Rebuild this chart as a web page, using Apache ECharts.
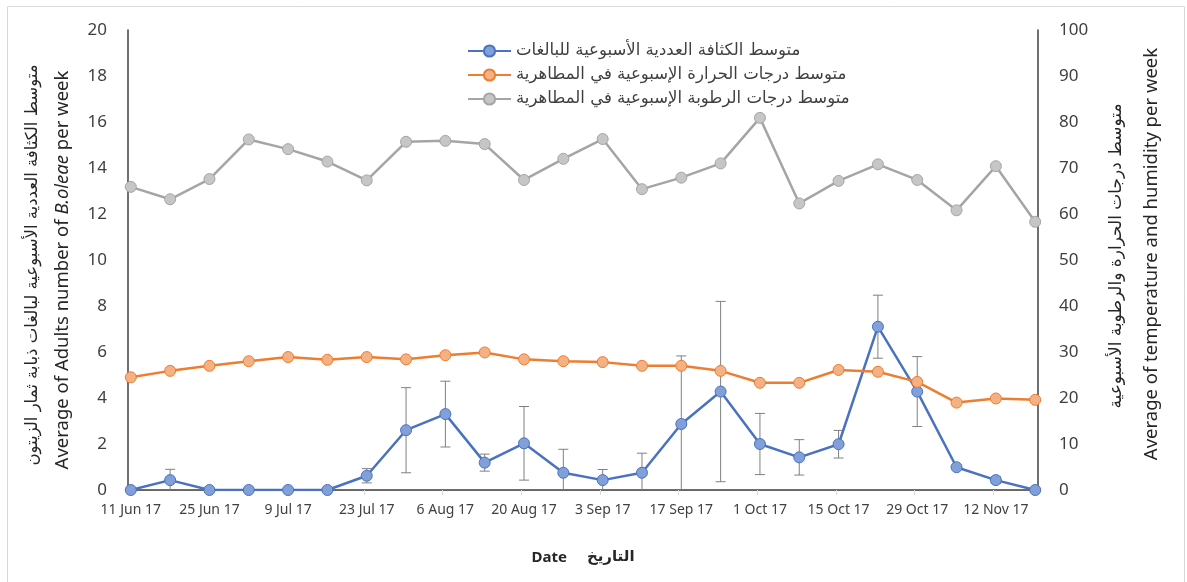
<!DOCTYPE html>
<html><head><meta charset="utf-8">
<script src="https://cdn.jsdelivr.net/npm/echarts@6/dist/echarts.min.js"></script>
<style>html,body{margin:0;padding:0;background:#fff}#c{width:1187px;height:582px}</style>
</head><body><div id="c"></div>
<script>
// one sample per week, starting 11 Jun 17
const weekCount = 24;
const daysPerWeek = 7;
const tickLabels = ['11 Jun 17','25 Jun 17','9 Jul 17','23 Jul 17','6 Aug 17','20 Aug 17','3 Sep 17','17 Sep 17','1 Oct 17','15 Oct 17','29 Oct 17','12 Nov 17'];
const adults = [0,0.43,0,0,0,0,0.62,2.6,3.3,1.19,2.03,0.75,0.43,0.75,2.87,4.28,2.0,1.42,1.99,7.1,4.28,0.99,0.43,0];
const adultsErr = [0,0.47,0,0,0,0,0.31,1.85,1.43,0.37,1.6,1.02,0.46,0.85,2.96,3.92,1.33,0.77,0.6,1.37,1.52,0,0.15,0];
const temperature = [24.5,25.9,27.0,28.0,28.9,28.3,28.9,28.4,29.3,29.9,28.4,28.0,27.8,27.0,27.0,25.9,23.3,23.3,26.1,25.7,23.5,19.0,19.9,19.6];
const humidity = [65.9,63.2,67.6,76.2,74.1,71.4,67.3,75.7,75.9,75.2,67.4,72.0,76.3,65.4,67.9,71.0,80.9,62.3,67.2,70.8,67.4,60.8,70.4,58.3];
const seriesNames = ['متوسط الكثافة العددية الأسبوعية للبالغات','متوسط درجات الحرارة الإسبوعية في المطاهرية','متوسط درجات الرطوبة الإسبوعية في المطاهرية'];

const dayCount = (weekCount - 1) * daysPerWeek + 1;
const days = Array.from({length: dayCount}, (_, d) => String(d));
const toPts = arr => arr.map((v, i) => [i * daysPerWeek, v]);
const errData = adults.map((v, i) => [i * daysPerWeek, v - adultsErr[i], v + adultsErr[i], adultsErr[i]]).filter(d => d[3] > 0);

const chart = echarts.init(document.getElementById('c'));
const axisFont = 'Noto Sans, DejaVu Sans, sans-serif';
const arFont = 'DejaVu Sans, sans-serif';
chart.setOption({
  animation: false,
  backgroundColor: '#fff',
  grid: {left: 128, right: 149, top: 30, bottom: 92},
  legend: {
    orient: 'vertical', left: 462, top: 37.5, itemGap: 7, itemWidth: 43, itemHeight: 14,
    data: seriesNames,
    textStyle: {fontFamily: arFont, fontSize: 16.5, color: '#404040'}
  },
  xAxis: [{
    type: 'category', data: days, boundaryGap: true,
    axisLine: {lineStyle: {color: '#d9d9d9', width: 1}},
    axisTick: {show: true, interval: 13, length: 5, lineStyle: {color: '#d9d9d9'}},
    axisLabel: {interval: 13, margin: 13, color: '#404040', fontSize: 14, fontFamily: axisFont,
      formatter: (v, idx) => tickLabels[idx / 14] || ''},
    name: '{en|Date}      {ar|التاريخ}', nameLocation: 'middle', nameGap: 60,
    nameTextStyle: {rich: {
      en: {fontFamily: axisFont, fontWeight: 'bold', fontSize: 15, color: '#262626'},
      ar: {fontFamily: arFont, fontWeight: 'bold', fontSize: 15, color: '#262626'}
    }},
    splitLine: {show: false}
  }, {
    type: 'category', data: days, position: 'top', boundaryGap: true,
    axisLine: {lineStyle: {color: '#404040', width: 1.5}},
    axisTick: {show: false}, axisLabel: {show: false}, splitLine: {show: false}
  }],
  yAxis: [{
    type: 'value', min: 0, max: 20, interval: 2,
    axisLine: {show: true, lineStyle: {color: '#404040', width: 1.5}},
    axisTick: {show: false}, splitLine: {show: false},
    axisLabel: {margin: 21, color: '#404040', fontSize: 17, fontFamily: axisFont}
  }, {
    type: 'value', min: 0, max: 100, interval: 10, position: 'right',
    axisLine: {show: true, lineStyle: {color: '#404040', width: 1.5}},
    axisTick: {show: false}, splitLine: {show: false},
    axisLabel: {margin: 21, color: '#404040', fontSize: 17, fontFamily: axisFont}
  }],
  graphic: [
    {type: 'rect', shape: {x: 7.5, y: 6.5, width: 1177, height: 600}, style: {fill: 'none', stroke: '#d9d9d9', lineWidth: 1}, silent: true, z: -1},
    {type: 'text', x: 33, y: 265, rotation: Math.PI / 2,
      style: {text: 'متوسط الكثافة العددية الأسبوعية لبالغات ذبابة ثمار الزيتون', font: '16.5px DejaVu Sans', fill: '#262626', align: 'center', verticalAlign: 'middle'}},
    {type: 'text', x: 63, y: 270, rotation: Math.PI / 2,
      style: {text: '{n|Average of Adults number of }{i|B.oleae}{n| per week}', align: 'center', verticalAlign: 'middle',
        rich: {n: {fontFamily: axisFont, fontSize: 18.5, fill: '#262626'}, i: {fontFamily: axisFont, fontSize: 18.5, fontStyle: 'italic', fill: '#262626'}}}},
    {type: 'text', x: 1117, y: 256, rotation: Math.PI / 2,
      style: {text: 'متوسط درجات الحرارة والرطوبة الأسبوعية', font: '17px DejaVu Sans', fill: '#262626', align: 'center', verticalAlign: 'middle'}},
    {type: 'text', x: 1152, y: 254, rotation: Math.PI / 2,
      style: {text: 'Average of temperature and humidity per week', font: '18.5px Noto Sans', fill: '#262626', align: 'center', verticalAlign: 'middle'}}
  ],
  series: [
    {
      type: 'custom', name: 'err', xAxisIndex: 0, yAxisIndex: 0, z: 3, silent: true,
      data: errData,
      renderItem: (params, api) => {
        const x = api.value(0), lo = api.value(1), hi = api.value(2);
        const top = api.coord([x, hi]);
        const bot = api.coord([x, Math.max(lo, 0)]);
        const st = {stroke: '#808080', lineWidth: 1};
        const ch = [
          {type: 'line', shape: {x1: top[0], y1: top[1], x2: bot[0], y2: bot[1]}, style: st},
          {type: 'line', shape: {x1: top[0] - 5, y1: top[1], x2: top[0] + 5, y2: top[1]}, style: st}
        ];
        if (lo >= 0) ch.push({type: 'line', shape: {x1: bot[0] - 5, y1: bot[1], x2: bot[0] + 5, y2: bot[1]}, style: st});
        return {type: 'group', children: ch};
      }
    },
    {
      type: 'line', name: seriesNames[0], xAxisIndex: 0, yAxisIndex: 0, z: 4,
      data: toPts(adults), symbol: 'circle', symbolSize: 11, showAllSymbol: true,
      lineStyle: {color: '#4a72c0', width: 2.5},
      itemStyle: {color: '#819fd8', borderColor: '#4a72c0', borderWidth: 1}
    },
    {
      type: 'line', name: seriesNames[1], xAxisIndex: 0, yAxisIndex: 1, z: 4,
      data: toPts(temperature), symbol: 'circle', symbolSize: 11, showAllSymbol: true,
      lineStyle: {color: '#ed7d31', width: 2.5},
      itemStyle: {color: '#f4b183', borderColor: '#ed7d31', borderWidth: 1}
    },
    {
      type: 'line', name: seriesNames[2], xAxisIndex: 0, yAxisIndex: 1, z: 4,
      data: toPts(humidity), symbol: 'circle', symbolSize: 11, showAllSymbol: true,
      lineStyle: {color: '#a5a5a5', width: 2.5},
      itemStyle: {color: '#c6c6c6', borderColor: '#a5a5a5', borderWidth: 1}
    }
  ]
});
</script></body></html>
